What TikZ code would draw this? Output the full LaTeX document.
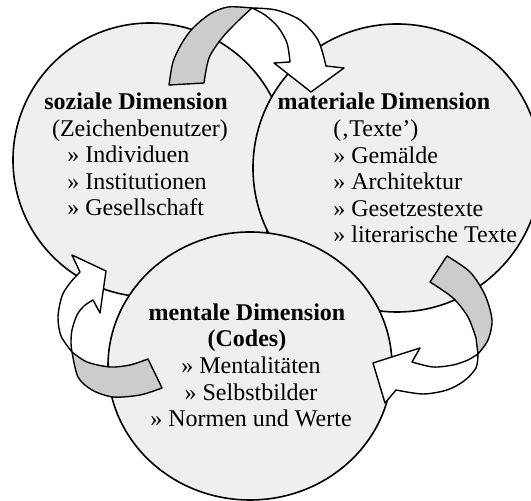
\documentclass[tikz,border=0pt]{standalone}
\usepackage{fontspec}
\setmainfont{Liberation Serif}
\definecolor{kreis}{HTML}{EFEFEF}
\definecolor{band}{HTML}{CCCCCC}

\begin{document}
\begin{tikzpicture}[
    x=0.5pt, y=-0.5pt,
    kreis/.style={fill=kreis, draw=black, line width=0.8pt},
    pfeilw/.style={fill=white, draw=black, line width=0.7pt, line join=round},
    pfeilg/.style={fill=band, draw=black, line width=0.7pt, line join=round},
    head/.style={font=\fontsize{12}{13.3}\selectfont\bfseries, align=center, inner sep=0pt},
    item/.style={font=\fontsize{12}{13.3}\selectfont, align=left, inner sep=0pt},
]
\useasboundingbox (0,0) rectangle (531,501);

% the three dimensions
\draw[kreis] (150,160) circle [radius=137];
\draw[kreis] (397,168) circle [radius=144];
\draw[kreis] (250,366) ellipse [x radius=142, y radius=134];

% soziale -> materiale
\draw[pfeilw] plot[smooth] coordinates {(252,8) (276,10) (300,20) (318,40) (326,66)}
   -- (344,68) -- (311,92) -- (274,63)
   -- plot[smooth] coordinates {(290,62) (287,43) (278,27) (265,15) (252,8)} -- cycle;
\draw[pfeilg] plot[smooth] coordinates {(252,8) (228,7) (210,14) (193,28) (182,43) (173,62) (169,85)}
   -- plot[smooth] coordinates {(204,83) (209,58) (222,38) (238,21) (252,8)} -- cycle;

% materiale -> mentale
\draw[pfeilw] plot[smooth] coordinates {(478,354) (476,368) (464,381) (447,390) (423,394) (396,390)}
   -- (385,403) -- (373,363) -- (420,348)
   -- plot[smooth] coordinates {(412,362) (433,367) (453,365) (468,360) (478,354)} -- cycle;
\draw[pfeilg] plot[smooth] coordinates {(447,256) (470,272) (485,295) (492,320) (488,340) (478,354)}
   -- plot[smooth] coordinates {(476,338) (468,317) (453,298) (430,282)} -- cycle;

% mentale -> soziale
\draw[pfeilw] plot[smooth] coordinates {(72,352) (61,336) (58,317) (62,296) (70,283) (80,272)}
   -- (72,255) -- (106,271) -- (100,313)
   -- plot[smooth] coordinates {(93,300) (84,306) (77,315) (72,330) (71,343) (72,352)} -- cycle;
\draw[pfeilg] plot[smooth] coordinates {(72,352) (87,362) (110,367) (130,365) (148,359)}
   -- plot[smooth] coordinates {(162,388) (140,395) (113,397) (92,390) (78,377) (72,352)} -- cycle;

% texts (base = last line)
\node[head, anchor=base] (sozH) at (136,110) {soziale Dimension};
\node[item, anchor=base] (sozS) at (140,137) {(Zeichenbenutzer)};
\node[item, anchor=base west] (sozL) at (67,216) {» Individuen\\» Institutionen\\» Gesellschaft};

\node[head, anchor=base] (matH) at (384,110) {materiale Dimension};
\node[item, anchor=base west] (matL) at (333,243) {(‚Texte’)\\» Gemälde\\» Architektur\\» Gesetzestexte\\» literarische Texte};

\node[head, anchor=base] (menH) at (247,347) {mentale Dimension\\(Codes)};
\node[item, align=center, anchor=base] (menL) at (251,427) {» Mentalitäten\\» Selbstbilder\\» Normen und Werte};
\end{tikzpicture}
\end{document}
